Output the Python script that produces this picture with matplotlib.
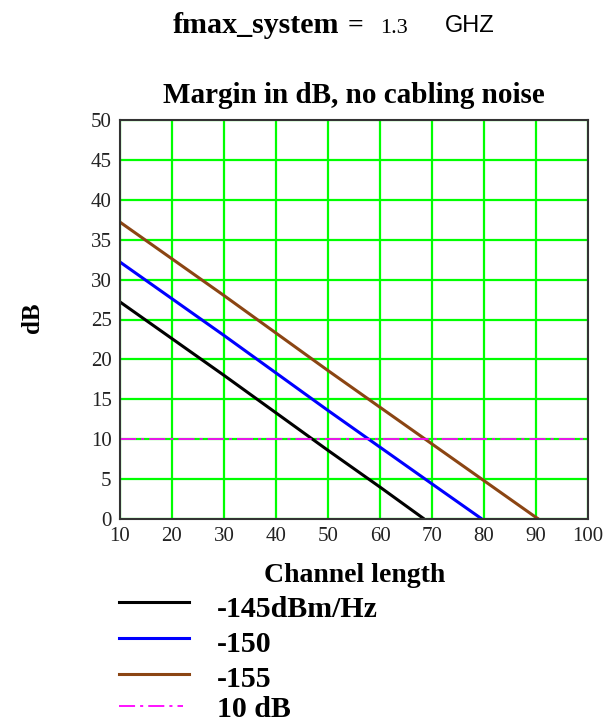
import matplotlib
matplotlib.use("Agg")
import matplotlib.pyplot as plt
from matplotlib.lines import Line2D

# Data
x_black = [10, 20, 30, 40, 50, 60, 68.5]
y_black = [27.2, 22.6, 18.0, 13.3, 8.6, 4.0, 0.0]
x_blue = [10, 20, 30, 40, 50, 60, 70, 79.6]
y_blue = [32.2, 27.6, 23.0, 18.3, 13.6, 9.0, 4.4, 0.0]
x_brown = [10, 20, 30, 40, 50, 60, 70, 80, 90, 90.5]
y_brown = [37.2, 32.6, 28.0, 23.3, 18.6, 14.0, 9.4, 4.8, 0.2, 0.0]
ref_level = 10
legend_labels = ["-145dBm/Hz", "-150", "-155", "10 dB"]
xticks = [10, 20, 30, 40, 50, 60, 70, 80, 90, 100]
yticks = [0, 5, 10, 15, 20, 25, 30, 35, 40, 45, 50]

W, H = 613, 723
fig = plt.figure(figsize=(W / 100, H / 100), dpi=100)
fig.patch.set_facecolor("white")

def fx(px):
    return px / W

def fy(py):
    return 1 - py / H

ax = fig.add_axes([fx(120), fy(519), fx(588) - fx(120), fy(120) - fy(519)])
ax.set_xlim(10, 100)
ax.set_ylim(0, 50)
ax.set_xticks(xticks)
ax.set_yticks(yticks)
ax.grid(True, color="#00ff00", lw=1.6)
ax.set_axisbelow(True)
for s in ax.spines.values():
    s.set_color("#333333")
    s.set_linewidth(1.5)
ax.tick_params(length=0, pad=6, labelsize=15, labelcolor="#222222")
for lbl in ax.get_xticklabels() + ax.get_yticklabels():
    lbl.set_fontfamily("Liberation Serif")

c_black, c_blue, c_brown, c_mag = "#000000", "#0000ff", "#8b4513", "#ff00ff"
dashdot = (0, (8.9, 2.8, 1.7, 2.8))
ax.plot(x_black, y_black, color=c_black, lw=2.2, solid_capstyle="butt")
ax.plot(x_blue, y_blue, color=c_blue, lw=2.2, solid_capstyle="butt")
ax.plot(x_brown, y_brown, color=c_brown, lw=2.2, solid_capstyle="butt")
ax.plot([10, 100], [ref_level, ref_level], color=c_mag, lw=1.3, linestyle=dashdot)

# Texts
serif = "Liberation Serif"
fig.text(fx(173), fy(33), "fmax_system", family=serif, weight="bold",
         fontsize=21.6, ha="left", va="baseline")
fig.text(fx(355.5), fy(33), "=", family=serif, weight="bold", fontsize=20,
         ha="center", va="baseline")
fig.text(fx(380), fy(33), "1.3", family=serif, fontsize=16, ha="left", va="baseline")
fig.text(fx(445), fy(32), "GHZ", family="Liberation Sans", fontsize=17,
         ha="left", va="baseline")

fig.text(fx(354), fy(103), "Margin in dB, no cabling noise", family=serif,
         weight="bold", fontsize=21, ha="center", va="baseline")
fig.text(fx(32), fy(318), "dB", family=serif, weight="bold", fontsize=18,
         rotation=90, ha="center", va="center")
fig.text(fx(355), fy(582), "Channel length", family=serif, weight="bold",
         fontsize=20, ha="center", va="baseline")

# Legend (manual rows)
text_base = [617, 652, 687, 717]
line_y = [602, 638, 674, 706]
styles = [dict(color=c_black, lw=2.2), dict(color=c_blue, lw=2.2),
          dict(color=c_brown, lw=2.2),
          dict(color=c_mag, lw=1.3, linestyle=dashdot)]
for tb, ly, st, lab in zip(text_base, line_y, styles, legend_labels):
    x_end = 183 if st.get("linestyle") else 189
    fig.add_artist(Line2D([fx(119), fx(x_end)], [fy(ly), fy(ly)],
                          transform=fig.transFigure, **st))
    fig.text(fx(217), fy(tb), lab, family=serif, weight="bold", fontsize=21.5,
             ha="left", va="baseline")

fig.savefig("out.png", dpi=100)
